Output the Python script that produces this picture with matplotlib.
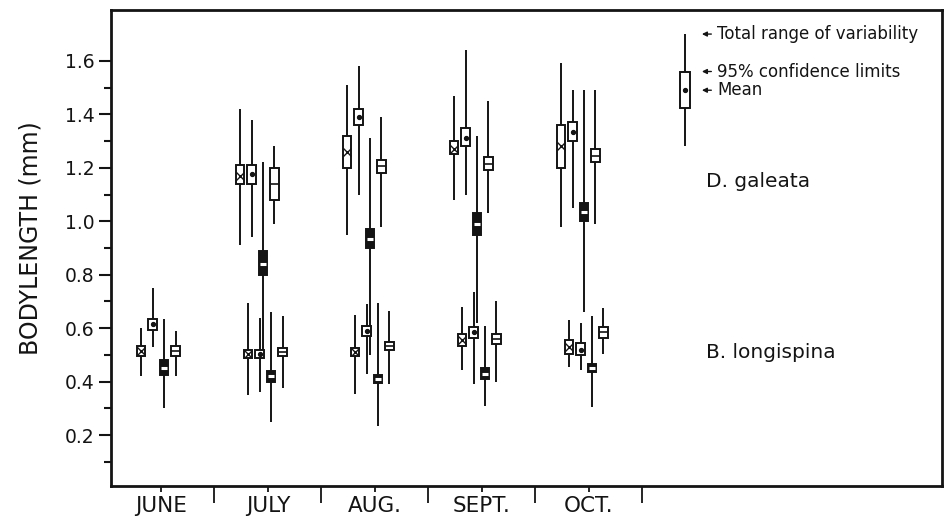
import matplotlib.pyplot as plt
from matplotlib.patches import Rectangle

months = ["JUNE", "JULY", "AUG.", "SEPT.", "OCT."]
station_kind = ["cross", "dot", "dark", "line"]

# D. galeata, one row per month (JULY..OCT.), one column per station
gal_month = [1, 2, 3, 4]
gal_min = [[0.91, 0.94, 0.49, 0.99],
           [0.95, 1.10, 0.50, 0.98],
           [1.08, 1.10, 0.62, 1.03],
           [0.98, 1.05, 0.66, 0.99]]
gal_max = [[1.42, 1.38, 1.22, 1.28],
           [1.51, 1.58, 1.31, 1.39],
           [1.47, 1.64, 1.32, 1.45],
           [1.59, 1.49, 1.49, 1.49]]
gal_ci_lo = [[1.14, 1.14, 0.80, 1.08],
             [1.20, 1.36, 0.90, 1.18],
             [1.25, 1.28, 0.95, 1.19],
             [1.20, 1.30, 1.00, 1.22]]
gal_ci_hi = [[1.21, 1.21, 0.89, 1.20],
             [1.32, 1.42, 0.97, 1.23],
             [1.30, 1.35, 1.03, 1.24],
             [1.36, 1.37, 1.07, 1.27]]
gal_mean = [[1.17, 1.175, 0.84, 1.14],
            [1.26, 1.39, 0.935, 1.205],
            [1.27, 1.31, 0.99, 1.215],
            [1.28, 1.335, 1.035, 1.245]]

# B. longispina, JUNE..OCT.
lon_month = [0, 1, 2, 3, 4]
lon_min = [[0.42, 0.53, 0.30, 0.42],
           [0.35, 0.36, 0.25, 0.375],
           [0.355, 0.43, 0.235, 0.39],
           [0.445, 0.39, 0.31, 0.40],
           [0.455, 0.445, 0.305, 0.505]]
lon_max = [[0.60, 0.75, 0.635, 0.59],
           [0.695, 0.64, 0.66, 0.645],
           [0.65, 0.69, 0.695, 0.665],
           [0.68, 0.735, 0.61, 0.70],
           [0.63, 0.62, 0.645, 0.675]]
lon_ci_lo = [[0.495, 0.595, 0.425, 0.495],
             [0.49, 0.49, 0.40, 0.495],
             [0.495, 0.57, 0.395, 0.52],
             [0.535, 0.565, 0.41, 0.54],
             [0.505, 0.50, 0.435, 0.565]]
lon_ci_hi = [[0.535, 0.635, 0.48, 0.535],
             [0.52, 0.52, 0.44, 0.525],
             [0.525, 0.61, 0.425, 0.55],
             [0.58, 0.605, 0.45, 0.58],
             [0.555, 0.545, 0.465, 0.605]]
lon_mean = [[0.515, 0.615, 0.45, 0.515],
            [0.505, 0.505, 0.42, 0.51],
            [0.51, 0.59, 0.41, 0.535],
            [0.557, 0.585, 0.43, 0.56],
            [0.53, 0.52, 0.45, 0.585]]

# key glyph: range, 95% limits and mean
key_range = [1.28, 1.70]
key_ci = [1.425, 1.56]
key_mean = 1.49
key_labels = ["Total range of variability", "95% confidence limits", "Mean"]

ink = "#141414"


def draw_sample(ax, x, lo, hi, c_lo, c_hi, m, kind, w=0.08):
    ax.vlines(x, lo, hi, color=ink, lw=1.4, zorder=2)
    face = ink if kind == "dark" else "white"
    ax.add_patch(Rectangle((x - w / 2, c_lo), w, c_hi - c_lo, facecolor=face,
                           edgecolor=ink, lw=1.4, zorder=3))
    if kind == "cross":
        ax.plot(x, m, marker="x", ms=5.5, mew=1.0, color=ink, zorder=4)
    elif kind == "dot":
        ax.plot(x, m, marker="o", ms=2.8, color=ink, zorder=4)
    elif kind == "dark":
        ax.hlines(m, x - w * 0.35, x + w * 0.35, color="white", lw=2.2, zorder=4)
    else:
        ax.hlines(m, x - w / 2, x + w / 2, color=ink, lw=1.2, zorder=4)


fig = plt.figure(figsize=(9.46, 5.22), dpi=100)
ax = fig.add_axes([111 / 946, 36 / 522, 831 / 946, 476 / 522])

step = 0.107
start = -0.26
for i, mo in enumerate(gal_month):
    for k, kind in enumerate(station_kind):
        draw_sample(ax, mo + start + step * k, gal_min[i][k], gal_max[i][k],
                    gal_ci_lo[i][k], gal_ci_hi[i][k], gal_mean[i][k], kind)
for i, mo in enumerate(lon_month):
    for k, kind in enumerate(station_kind):
        draw_sample(ax, mo + start + 0.075 + step * k, lon_min[i][k], lon_max[i][k],
                    lon_ci_lo[i][k], lon_ci_hi[i][k], lon_mean[i][k], kind)

# key in the upper right
kx = 4.9
draw_sample(ax, kx, key_range[0], key_range[1], key_ci[0], key_ci[1], key_mean, "dot", w=0.093)
for y, txt in zip([key_range[1], key_ci[1], key_mean], key_labels):
    ax.annotate("", xy=(kx + 0.13, y), xytext=(kx + 0.27, y),
                arrowprops=dict(arrowstyle="-|>", lw=1.0, color=ink, mutation_scale=7))
    ax.text(kx + 0.3, y, txt, fontsize=12, va="center", ha="left", color=ink)

ax.text(5.09, 1.15, "D. galeata", fontsize=14.5, va="center", ha="left", color=ink)
ax.text(5.09, 0.51, "B. longispina", fontsize=14.5, va="center", ha="left", color=ink)

ax.set_xlim(-0.467, 7.30)
ax.set_ylim(0.01, 1.79)

ax.set_yticks([0.2, 0.4, 0.6, 0.8, 1.0, 1.2, 1.4, 1.6])
ax.set_yticklabels(["0.2", "0.4", "0.6", "0.8", "1.0", "1.2", "1.4", "1.6"])
ax.set_yticks([0.1, 0.3, 0.5, 0.7, 0.9, 1.1, 1.3, 1.5], minor=True)
ax.set_xticks(range(len(months)))
ax.set_xticklabels(months)
ax.set_xticks([i + 0.5 for i in range(len(months))], minor=True)

ax.tick_params(axis="y", which="major", length=9, width=1.5, pad=3, labelsize=13.5, colors=ink)
ax.tick_params(axis="y", which="minor", length=5, width=1.5, colors=ink)
ax.tick_params(axis="x", which="major", length=4, width=1.3, pad=3, labelsize=15.5, colors=ink)
ax.tick_params(axis="x", which="minor", length=12, width=1.3, colors=ink)

for sp in ax.spines.values():
    sp.set_linewidth(2.0)
    sp.set_color(ink)

ax.set_ylabel("BODYLENGTH (mm)", fontsize=17, color=ink)
ax.yaxis.set_label_coords(-0.082, 0.52)

fig.savefig("out.png", dpi=100)
